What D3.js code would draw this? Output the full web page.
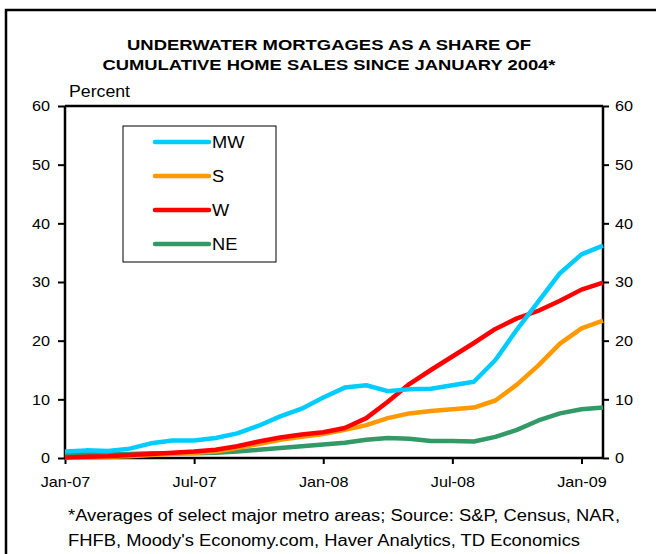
<!DOCTYPE html>
<html>
<head>
<meta charset="utf-8">
<script src="https://cdn.jsdelivr.net/npm/d3@7"></script>
<style>
  body { margin: 0; background: #fff; }
  text { font-family: Arial, "Liberation Sans", sans-serif; fill: #000; }
</style>
</head>
<body>
<svg id="chart"></svg>
<script>
// monthly, Jan-07 .. Feb-09
var months = ['Jan-07','Feb-07','Mar-07','Apr-07','May-07','Jun-07','Jul-07','Aug-07','Sep-07','Oct-07','Nov-07','Dec-07',
              'Jan-08','Feb-08','Mar-08','Apr-08','May-08','Jun-08','Jul-08','Aug-08','Sep-08','Oct-08','Nov-08','Dec-08',
              'Jan-09','Feb-09'];
var mw = [1.1, 1.3, 1.2, 1.6, 2.5, 3.0, 3.0, 3.4, 4.2, 5.5, 7.1, 8.4, 10.3, 12.0, 12.4, 11.4, 11.7, 11.8, 12.4, 13.0, 16.7, 21.9, 26.7, 31.5, 34.7, 36.2];
var s  = [0.1, 0.1, 0.2, 0.3, 0.5, 0.7, 0.9, 1.1, 1.7, 2.4, 3.1, 3.6, 4.1, 4.8, 5.6, 6.8, 7.6, 8.0, 8.3, 8.6, 9.8, 12.5, 15.8, 19.5, 22.1, 23.4];
var w  = [0.1, 0.2, 0.3, 0.5, 0.7, 0.9, 1.1, 1.4, 2.0, 2.8, 3.5, 4.0, 4.4, 5.1, 6.8, 9.6, 12.6, 15.0, 17.3, 19.6, 22.0, 23.8, 25.1, 26.8, 28.7, 29.9];
var ne = [0.7, 0.7, 0.7, 0.7, 0.8, 0.8, 0.8, 0.9, 1.1, 1.4, 1.7, 2.0, 2.3, 2.6, 3.1, 3.4, 3.3, 2.9, 2.9, 2.8, 3.6, 4.8, 6.4, 7.6, 8.3, 8.6];
var seriesNames = ['MW', 'S', 'W', 'NE'];
var seriesColors = ['#00ccff', '#ff9900', '#ff0000', '#339966'];
var xTickLabels = ['Jan-07', 'Jul-07', 'Jan-08', 'Jul-08', 'Jan-09'];
var yTicks = [0, 10, 20, 30, 40, 50, 60];

var svgWidth = 656, svgHeight = 554;
var margin = { top: 106, right: 53, bottom: 96, left: 65 };
var width = svgWidth - margin.left - margin.right;
var height = svgHeight - margin.top - margin.bottom;

// the reference text is a little wider than plain Arial
function stretch(sel, k) {
    sel.each(function () {
        var len = this.getComputedTextLength();
        d3.select(this).attr('textLength', len * k).attr('lengthAdjust', 'spacingAndGlyphs');
    });
}

var svg = d3.select('#chart')
    .attr('width', svgWidth)
    .attr('height', svgHeight);

// outer frame (runs off the right and bottom edges)
svg.append('rect')
    .attr('x', 6).attr('y', 10)
    .attr('width', 700).attr('height', 600)
    .attr('fill', 'none')
    .attr('stroke', '#000')
    .attr('stroke-width', 2.5);

svg.append('text')
    .attr('x', 329).attr('y', 50)
    .attr('text-anchor', 'middle')
    .attr('textLength', 404).attr('lengthAdjust', 'spacingAndGlyphs')
    .style('font-weight', 'bold').style('font-size', '15px')
    .text('UNDERWATER MORTGAGES AS A SHARE OF');
svg.append('text')
    .attr('x', 329).attr('y', 70)
    .attr('text-anchor', 'middle')
    .attr('textLength', 453).attr('lengthAdjust', 'spacingAndGlyphs')
    .style('font-weight', 'bold').style('font-size', '15px')
    .text('CUMULATIVE HOME SALES SINCE JANUARY 2004*');

var g = svg.append('g')
    .attr('transform', 'translate(' + margin.left + ',' + margin.top + ')');

var x = d3.scaleLinear().domain([0, months.length - 1]).range([0, width]);
var y = d3.scaleLinear().domain([0, 60]).range([height, 0]);

g.append('text')
    .attr('x', 4).attr('y', -9)
    .attr('textLength', 61).attr('lengthAdjust', 'spacingAndGlyphs')
    .style('font-size', '16px')
    .text('Percent');

var xAxis = d3.axisBottom(x)
    .tickValues(xTickLabels.map(function (m) { return months.indexOf(m); }))
    .tickFormat(function (d) { return months[d]; })
    .tickSize(6).tickPadding(12);
var gx = g.append('g')
    .attr('transform', 'translate(0,' + height + ')')
    .call(xAxis);

var gl = g.append('g').call(d3.axisLeft(y).tickValues(yTicks).tickSize(7).tickPadding(8));
var gr = g.append('g')
    .attr('transform', 'translate(' + width + ',0)')
    .call(d3.axisRight(y).tickValues(yTicks).tickSize(6).tickPadding(6));

[gx, gl, gr].forEach(function (a) {
    a.selectAll('.domain').attr('stroke-width', 2.5);
    a.selectAll('.tick line').attr('stroke-width', 2);
    a.selectAll('text').style('font-size', '15px').style('font-family', 'Arial, "Liberation Sans", sans-serif');
    stretch(a.selectAll('text'), 1.08);
});
gl.select('.domain').attr('d', 'M0,0V' + height);
gr.select('.domain').attr('d', 'M0,0V' + height);
gx.select('.domain').attr('d', 'M0,0H' + width);
// top border of plot area
g.append('line')
    .attr('x1', 0).attr('x2', width).attr('y1', 0).attr('y2', 0)
    .attr('stroke', '#000').attr('stroke-width', 2.5);

var line = d3.line()
    .x(function (d, i) { return x(i); })
    .y(function (d) { return y(d); });

var allSeries = [mw, s, w, ne];
// draw order: NE underneath, then S, W, MW
[3, 1, 2, 0].forEach(function (k) {
    g.append('path')
        .datum(allSeries[k])
        .attr('fill', 'none')
        .attr('stroke', seriesColors[k])
        .attr('stroke-width', 4.5)
        .attr('stroke-linejoin', 'round')
        .attr('d', line);
});

// legend
var lg = svg.append('g').attr('transform', 'translate(123,126)');
lg.append('rect')
    .attr('width', 153).attr('height', 136)
    .attr('fill', '#fff').attr('stroke', '#000').attr('stroke-width', 1);
seriesNames.forEach(function (name, i) {
    var yy = 16 + i * 34;
    lg.append('line')
        .attr('x1', 32).attr('x2', 86).attr('y1', yy).attr('y2', yy)
        .attr('stroke', seriesColors[i]).attr('stroke-width', 4.5)
        .attr('stroke-linecap', 'round');
    var t = lg.append('text')
        .attr('x', 89).attr('y', yy + 6)
        .style('font-size', '16px')
        .text(name);
    stretch(t, 1.14);
});

svg.append('text')
    .attr('x', 68).attr('y', 521)
    .attr('textLength', 552).attr('lengthAdjust', 'spacingAndGlyphs')
    .style('font-size', '16px')
    .text('*Averages of select major metro areas; Source: S&P, Census, NAR,');
svg.append('text')
    .attr('x', 68).attr('y', 546)
    .attr('textLength', 512).attr('lengthAdjust', 'spacingAndGlyphs')
    .style('font-size', '16px')
    .text("FHFB, Moody's Economy.com, Haver Analytics, TD Economics");
</script>
</body>
</html>
